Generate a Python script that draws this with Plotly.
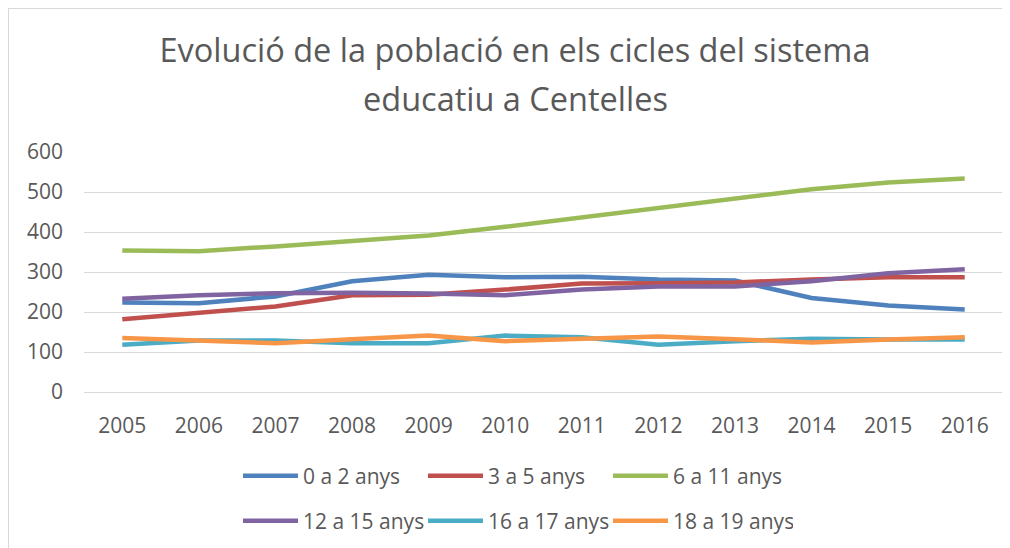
import plotly.graph_objects as go

years = ["2005", "2006", "2007", "2008", "2009", "2010", "2011", "2012", "2013", "2014", "2015", "2016"]
s_0_2 = [224, 222, 239, 277, 293, 287, 288, 281, 279, 235, 216, 206]
s_3_5 = [182, 199, 214, 242, 243, 256, 271, 272, 274, 281, 287, 287]
s_6_11 = [354, 352, 364, 377, 391, 413, 437, 460, 483, 507, 524, 534]
s_12_15 = [233, 242, 247, 248, 246, 242, 256, 264, 264, 277, 297, 307]
s_16_17 = [118, 129, 129, 122, 122, 141, 137, 118, 127, 133, 131, 131]
s_18_19 = [135, 129, 122, 132, 141, 127, 134, 139, 132, 124, 131, 137]

names = ["0 a 2 anys", "3 a 5 anys", "6 a 11 anys", "12 a 15 anys", "16 a 17 anys", "18 a 19 anys"]
series = [s_0_2, s_3_5, s_6_11, s_12_15, s_16_17, s_18_19]
colors = ["#4f81bd", "#c0504d", "#9bbb59", "#8064a2", "#4bacc6", "#f79646"]
legends = ["legend", "legend", "legend", "legend2", "legend2", "legend2"]

# page body has an 8px margin: work in screen px, offset by OFF
OFF = 8
W, H = 1010 - OFF, 548 - OFF
L, R, T, B = 84 - OFF, 15 - OFF, 152 - OFF, 156

fig = go.Figure()
for n, s, c, lg in zip(names, series, colors, legends):
    fig.add_trace(go.Scatter(x=years, y=s, name=n, mode="lines",
                             line=dict(color=c, width=4.5, shape="linear"),
                             legend=lg))

font_fam = "Open Sans, Calibri, sans-serif"
txt = "#595959"

def cy(y):  # screen y -> container fraction
    return 1 - (y - OFF) / H

def cx(x):
    return (x - OFF) / W

pw = W - L - R
ph = H - T - B

def px_x(x):
    return (x - OFF - L) / pw

def px_y(y):
    return (H - B - (y - OFF)) / ph

leg_common = dict(orientation="h", xref="container", yref="container",
                  xanchor="left", yanchor="middle",
                  entrywidth=115, entrywidthmode="pixels", itemwidth=55,
                  font=dict(size=21, color=txt), bgcolor="rgba(0,0,0,0)",
                  tracegroupgap=0, itemclick=False)

fig.update_layout(
    width=W, height=H,
    margin=dict(l=L, r=R, t=T, b=B),
    paper_bgcolor="white", plot_bgcolor="white",
    font=dict(family=font_fam, color=txt, size=18),
    title=dict(text="Evolució de la població en els cicles del sistema",
               x=cx(515), xref="container", xanchor="center",
               y=cy(51), yref="container", yanchor="middle",
               font=dict(size=32.5, color=txt, family=font_fam)),
    xaxis=dict(type="category", range=[-0.5, 11.5], showgrid=False,
               showline=True, linecolor="#d9d9d9", linewidth=1.3,
               ticks="", tickfont=dict(size=21, color=txt),
               ticklabelstandoff=15, zeroline=False, fixedrange=True),
    yaxis=dict(range=[0, 600], dtick=100, showgrid=True, gridcolor="#d9d9d9",
               gridwidth=1.3, zeroline=False, showline=False,
               tickfont=dict(size=21, color=txt), ticklabelstandoff=20,
               fixedrange=True),
    legend=dict(x=cx(238), y=cy(476), **leg_common),
    legend2=dict(x=cx(238), y=cy(521), **leg_common),
    showlegend=True,
)

fig.add_annotation(text="educatiu a Centelles", xref="paper", yref="paper",
                   x=px_x(515), y=px_y(99), xanchor="center", yanchor="middle",
                   showarrow=False, font=dict(size=32.5, color=txt, family=font_fam))

fig.add_shape(type="rect", xref="paper", yref="paper",
              x0=px_x(8), x1=px_x(1020), y0=px_y(560), y1=px_y(8),
              line=dict(color="#d9d9d9", width=2), fillcolor="rgba(0,0,0,0)",
              layer="below")

fig.write_html("out.html")
